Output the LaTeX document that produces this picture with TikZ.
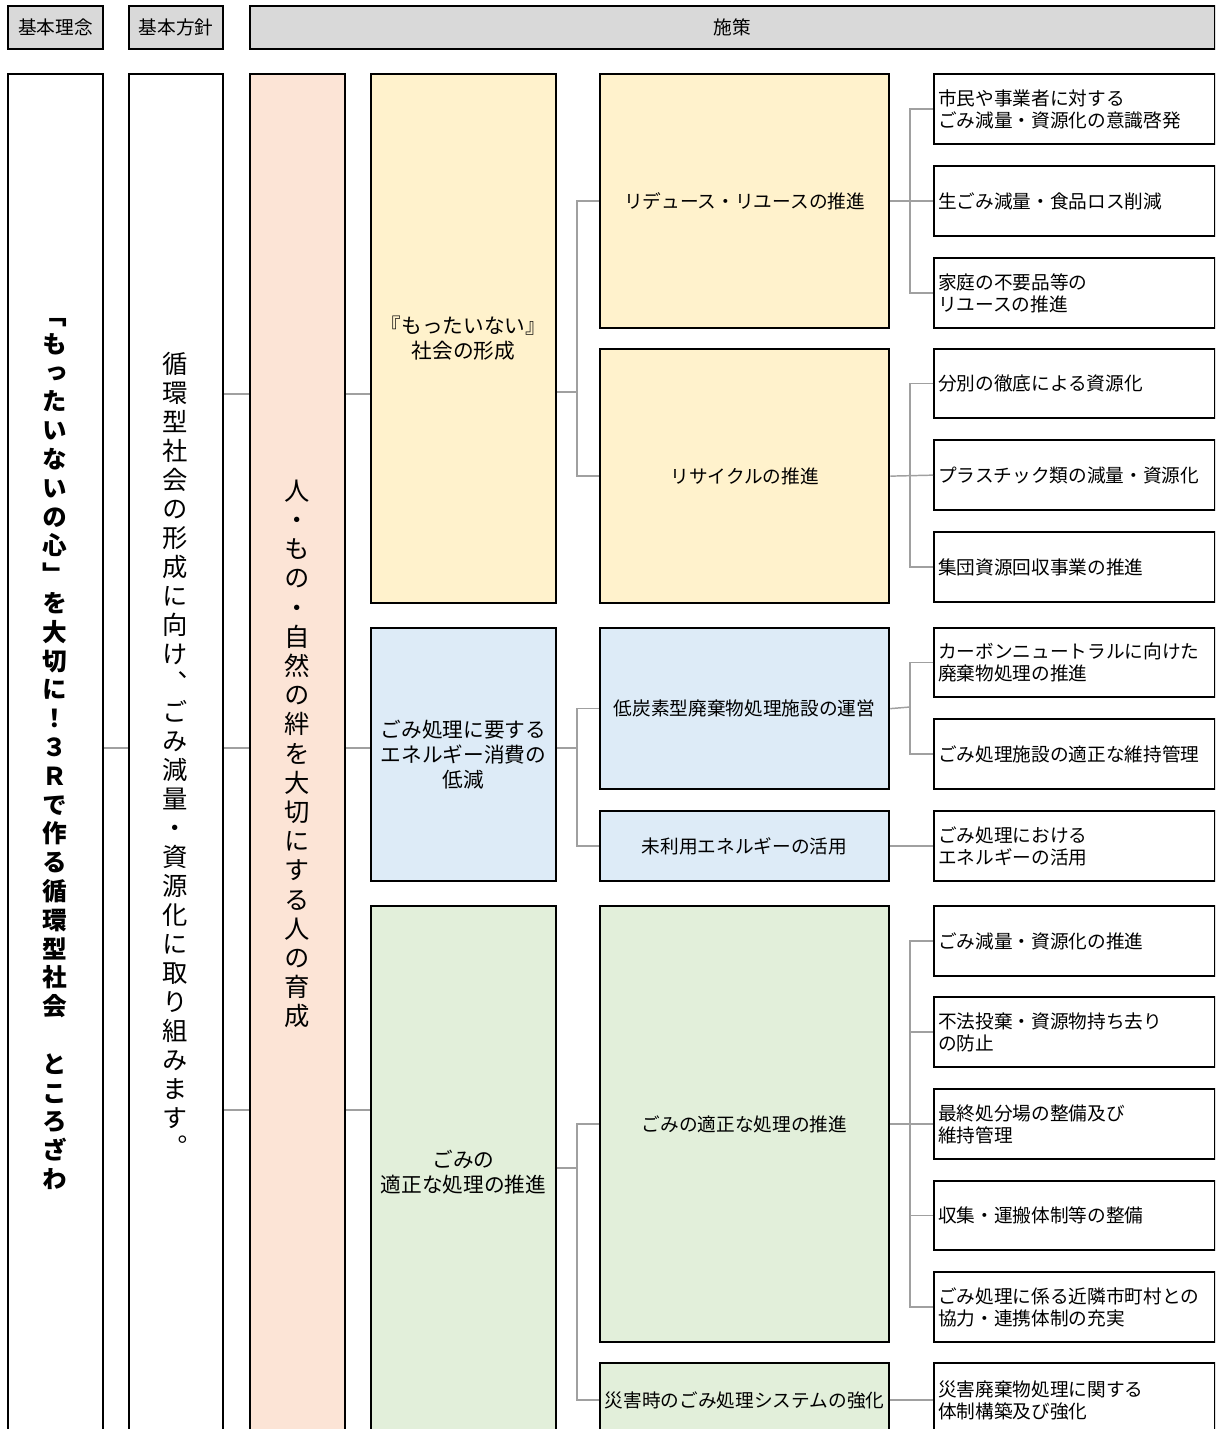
\documentclass[tikz,border=0pt]{standalone}
\usepackage{fontspec}
\setmainfont{Noto Sans CJK JP}
\newfontfamily\jpv[RawFeature=+vert]{Noto Sans CJK JP}
\definecolor{hdrgray}{HTML}{D9D9D9}
\definecolor{cpink}{HTML}{FCE4D6}
\definecolor{cyel}{HTML}{FFF2CC}
\definecolor{cblue}{HTML}{DDEBF7}
\definecolor{cgreen}{HTML}{E2EFDA}
\definecolor{lgray}{HTML}{A0A0A0}
\newcommand\mybox[7]{%
  \pgfmathsetmacro\bw{(#5-#3)*0.75}\pgfmathsetmacro\bh{(#6-#4)*0.75}%
  \node[#2, minimum width=\bw pt, minimum height=\bh pt, anchor=north west] (#1) at (#3,#4) {#7};}
\begin{document}
\begin{tikzpicture}[x=0.75pt,y=-0.75pt,
  box/.style={draw=black, line width=1.7pt, rectangle, inner sep=0pt,
    font=\fontsize{14}{16.5}\selectfont},
  hdr/.style={box, fill=hdrgray},
  mid/.style={box, align=center, font=\fontsize{14}{18}\selectfont},
  big/.style={box, align=center, font=\fontsize{15.5}{18.75}\selectfont},
  leaf/.style={box, fill=white, align=left, inner xsep=3pt, text width=204.75pt},
  vtext/.style={align=center, inner sep=0pt},
  conn/.style={draw=lgray, line width=1.1pt}]
\useasboundingbox (0,0) rectangle (1215,1429);
\clip (0,0) rectangle (1215,1429);
% headers
\mybox{h1}{hdr}{7}{5}{102}{48}{基本理念}
\mybox{h2}{hdr}{128}{5}{222}{48}{基本方針}
\mybox{h3}{hdr}{249}{5}{1214}{48}{施策}
% main columns
\mybox{c1}{box, fill=white}{7}{73}{102}{1436}{}
\mybox{c2}{box, fill=white}{128}{73}{222}{1436}{}
\mybox{c3}{box, fill=cpink}{249}{73}{344}{1436}{}
\node[vtext, font=\jpv\bfseries\fontsize{18.5}{21.6}\selectfont] (t1) at (55,754)
 {「\\も\\っ\\た\\い\\な\\い\\の\\心\\」\\を\\大\\切\\に\\！\\３\\Ｒ\\で\\作\\る\\循\\環\\型\\社\\会\\　\\と\\こ\\ろ\\ざ\\わ};
\node[vtext, font=\jpv\fontsize{19}{21.75}\selectfont] (t2) at (175,754)
 {循\\環\\型\\社\\会\\の\\形\\成\\に\\向\\け\\、\\ご\\み\\減\\量\\・\\資\\源\\化\\に\\取\\り\\組\\み\\ま\\す\\。};
\node[vtext, font=\jpv\fontsize{19}{21.9}\selectfont] (t3) at (297,754)
 {人\\・\\も\\の\\・\\自\\然\\の\\絆\\を\\大\\切\\に\\す\\る\\人\\の\\育\\成};
% column 4
\mybox{Y4}{big, fill=cyel}{370}{73}{555}{602}{『もったいない』\\社会の形成}
\mybox{B4}{big, fill=cblue}{370}{627}{555}{880}{ごみ処理に要する\\エネルギー消費の\\低減}
\mybox{G4}{big, fill=cgreen}{370}{905}{555}{1436}{ごみの\\適正な処理の推進}
% column 5
\mybox{Y5a}{mid, fill=cyel}{599}{73}{888}{327}{リデュース・リユースの推進}
\mybox{Y5b}{mid, fill=cyel}{599}{348}{888}{602}{リサイクルの推進}
\mybox{B5a}{mid, fill=cblue}{599}{627}{888}{788}{低炭素型廃棄物処理施設の運営}
\mybox{B5b}{mid, fill=cblue}{599}{810}{888}{880}{未利用エネルギーの活用}
\mybox{G5a}{mid, fill=cgreen}{599}{905}{888}{1341}{ごみの適正な処理の推進}
\mybox{G5b}{mid, fill=cgreen}{599}{1362}{888}{1436}{災害時のごみ処理システムの強化}
% column 6
\mybox{Y6a}{leaf}{933}{73}{1214}{143}{市民や事業者に対する\\ごみ減量・資源化の意識啓発}
\mybox{Y6b}{leaf}{933}{165}{1214}{235}{生ごみ減量・食品ロス削減}
\mybox{Y6c}{leaf}{933}{257}{1214}{327}{家庭の不要品等の\\リユースの推進}
\mybox{Y6d}{leaf}{933}{348}{1214}{417}{分別の徹底による資源化}
\mybox{Y6e}{leaf}{933}{439}{1214}{509}{プラスチック類の減量・資源化}
\mybox{Y6f}{leaf}{933}{531}{1214}{601}{集団資源回収事業の推進}
\mybox{B6a}{leaf}{933}{627}{1214}{696}{カーボンニュートラルに向けた\\廃棄物処理の推進}
\mybox{B6b}{leaf}{933}{718}{1214}{788}{ごみ処理施設の適正な維持管理}
\mybox{B6c}{leaf}{933}{810}{1214}{880}{ごみ処理における\\エネルギーの活用}
\mybox{G6a}{leaf}{933}{905}{1214}{975}{ごみ減量・資源化の推進}
\mybox{G6b}{leaf}{933}{996}{1214}{1066}{不法投棄・資源物持ち去り\\の防止}
\mybox{G6c}{leaf}{933}{1088}{1214}{1158}{最終処分場の整備及び\\維持管理}
\mybox{G6d}{leaf}{933}{1180}{1214}{1249}{収集・運搬体制等の整備}
\mybox{G6e}{leaf}{933}{1271}{1214}{1341}{ごみ処理に係る近隣市町村との\\協力・連携体制の充実}
\mybox{G6f}{leaf}{933}{1362}{1214}{1436}{災害廃棄物処理に関する\\体制構築及び強化}
% connectors
\coordinate (ry) at (0,394);
\coordinate (rb) at (0,748);
\coordinate (rg) at (0,1110);
\draw[conn] (c1.east|-rb) -- (c2.west|-rb);
\draw[conn] (c2.east|-ry) -- (c3.west|-ry);
\draw[conn] (c2.east|-rb) -- (c3.west|-rb);
\draw[conn] (c2.east|-rg) -- (c3.west|-rg);
\draw[conn] (c3.east|-ry) -- (Y4.west|-ry);
\draw[conn] (c3.east|-rb) -- (B4.west|-rb);
\draw[conn] (c3.east|-rg) -- (G4.west|-rg);
\coordinate (ty) at (577,392);
\coordinate (tb) at (577,748);
\coordinate (tg) at (577,1168);
\draw[conn] (Y4.east|-ty) -- (ty);
\draw[conn] (Y5a.west) -| (ty) |- (Y5b.west);
\draw[conn] (B4.east|-tb) -- (tb);
\draw[conn] (B5a.west) -| (tb) |- (B5b.west);
\draw[conn] (G4.east|-tg) -- (tg);
\draw[conn] (G5a.west) -| (tg) |- (G5b.west);
\coordinate (ka) at (910,200);
\coordinate (kb) at (910,475);
\coordinate (kc) at (910,707);
\coordinate (kd) at (910,1123);
\draw[conn] (Y5a.east) -- (Y6b.west);
\draw[conn] (Y6a.west) -| (ka) |- (Y6c.west);
\draw[conn] (Y5b.east) -- (Y6e.west);
\draw[conn] (Y6d.west) -| (kb) |- (Y6f.west);
\draw[conn] (B5a.east) -- (kc);
\draw[conn] (B6a.west) -| (kc) |- (B6b.west);
\draw[conn] (B5b.east) -- (B6c.west);
\draw[conn] (G5a.east) -- (G6c.west);
\draw[conn] (G6a.west) -| (kd) |- (G6e.west);
\draw[conn] (kd|-G6b.west) -- (G6b.west);
\draw[conn] (kd|-G6d.west) -- (G6d.west);
\draw[conn] (G5b.east) -- (G6f.west);
\end{tikzpicture}
\end{document}
